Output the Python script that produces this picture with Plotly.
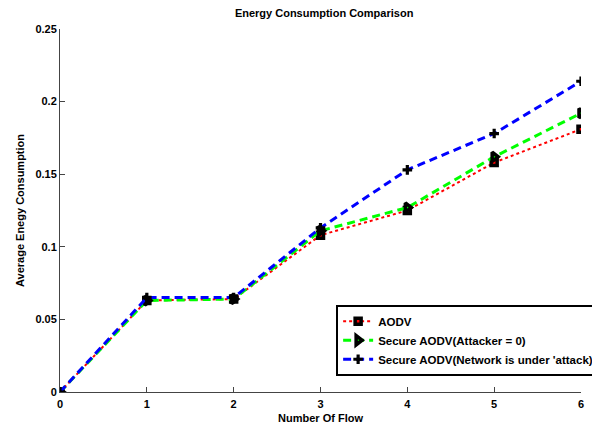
import plotly.graph_objects as go

flows = [0, 1, 2, 3, 4, 5, 6]
aodv = [0, 0.063, 0.064, 0.108, 0.125, 0.158, 0.181]
secure_aodv = [0, 0.063, 0.064, 0.111, 0.127, 0.162, 0.192]
secure_attack = [0, 0.065, 0.065, 0.113, 0.153, 0.178, 0.214]

names = ["AODV", "Secure AODV(Attacker = 0)", "Secure AODV(Network is under 'attack)"]
y_ticks = [0, 0.05, 0.1, 0.15, 0.2, 0.25]
y_ticktext = ["0", "0.05", "0.1", "0.15", "0.2", "0.25"]
x_ticks = [0, 1, 2, 3, 4, 5, 6]

FONT = "Liberation Sans, Arial, Helvetica, sans-serif"

fig = go.Figure()
fig.add_trace(go.Scatter(
    x=flows, y=aodv, name=names[0], mode="lines+markers",
    line=dict(color="#ff0000", width=2, dash="dot"),
    marker=dict(symbol="square", size=6, color="#ff0000", line=dict(color="black", width=3.5)),
))
fig.add_trace(go.Scatter(
    x=flows, y=secure_aodv, name=names[1], mode="lines+markers",
    line=dict(color="#00ff00", width=3, dash="8px,5px"),
    marker=dict(symbol="triangle-right", size=8, color="#00ff00", line=dict(color="black", width=3.5)),
))
fig.add_trace(go.Scatter(
    x=flows, y=secure_attack, name=names[2], mode="lines+markers",
    line=dict(color="#0000ff", width=3, dash="8px,5px"),
    marker=dict(symbol="cross", size=8, color="black", line=dict(width=0)),
))

fig.update_layout(
    width=592, height=419,
    margin=dict(l=52, r=19, t=20.5, b=34.5, autoexpand=False),
    paper_bgcolor="white", plot_bgcolor="white",
    font=dict(family=FONT, size=11, color="black", weight="bold"),
    title=dict(text="Energy Consumption Comparison", x=0.534, xanchor="center", y=0.988, yanchor="middle",
               font=dict(family=FONT, size=11, color="black", weight="bold")),
    showlegend=True,
    legend=dict(x=0.53, y=0.2404, xanchor="left", yanchor="top",
                bgcolor="white", bordercolor="black", borderwidth=2,
                font=dict(family=FONT, size=11.5, color="black", weight="bold"),
                tracegroupgap=0, itemwidth=30),
)
fig.update_xaxes(
    range=[0, 6], tickvals=x_ticks, ticks="inside", ticklen=5, tickcolor="#444",
    showline=True, linecolor="#444", linewidth=1, showgrid=False, zeroline=False, mirror=False,
    ticklabelstandoff=2,
    title=dict(text="Number Of Flow", standoff=5, font=dict(size=11, weight="bold")),
    tickfont=dict(size=11, weight="bold"),
)
fig.update_yaxes(
    range=[0, 0.25], tickvals=y_ticks, ticktext=y_ticktext, ticks="inside", ticklen=5, tickcolor="#444",
    showline=True, linecolor="#444", linewidth=1, showgrid=False, zeroline=False, mirror=False,
    title=dict(text="Average Enegy Consumption", standoff=8, font=dict(size=11, weight="bold")),
    tickfont=dict(size=11, weight="bold"),
)

fig.write_html("out.html")
